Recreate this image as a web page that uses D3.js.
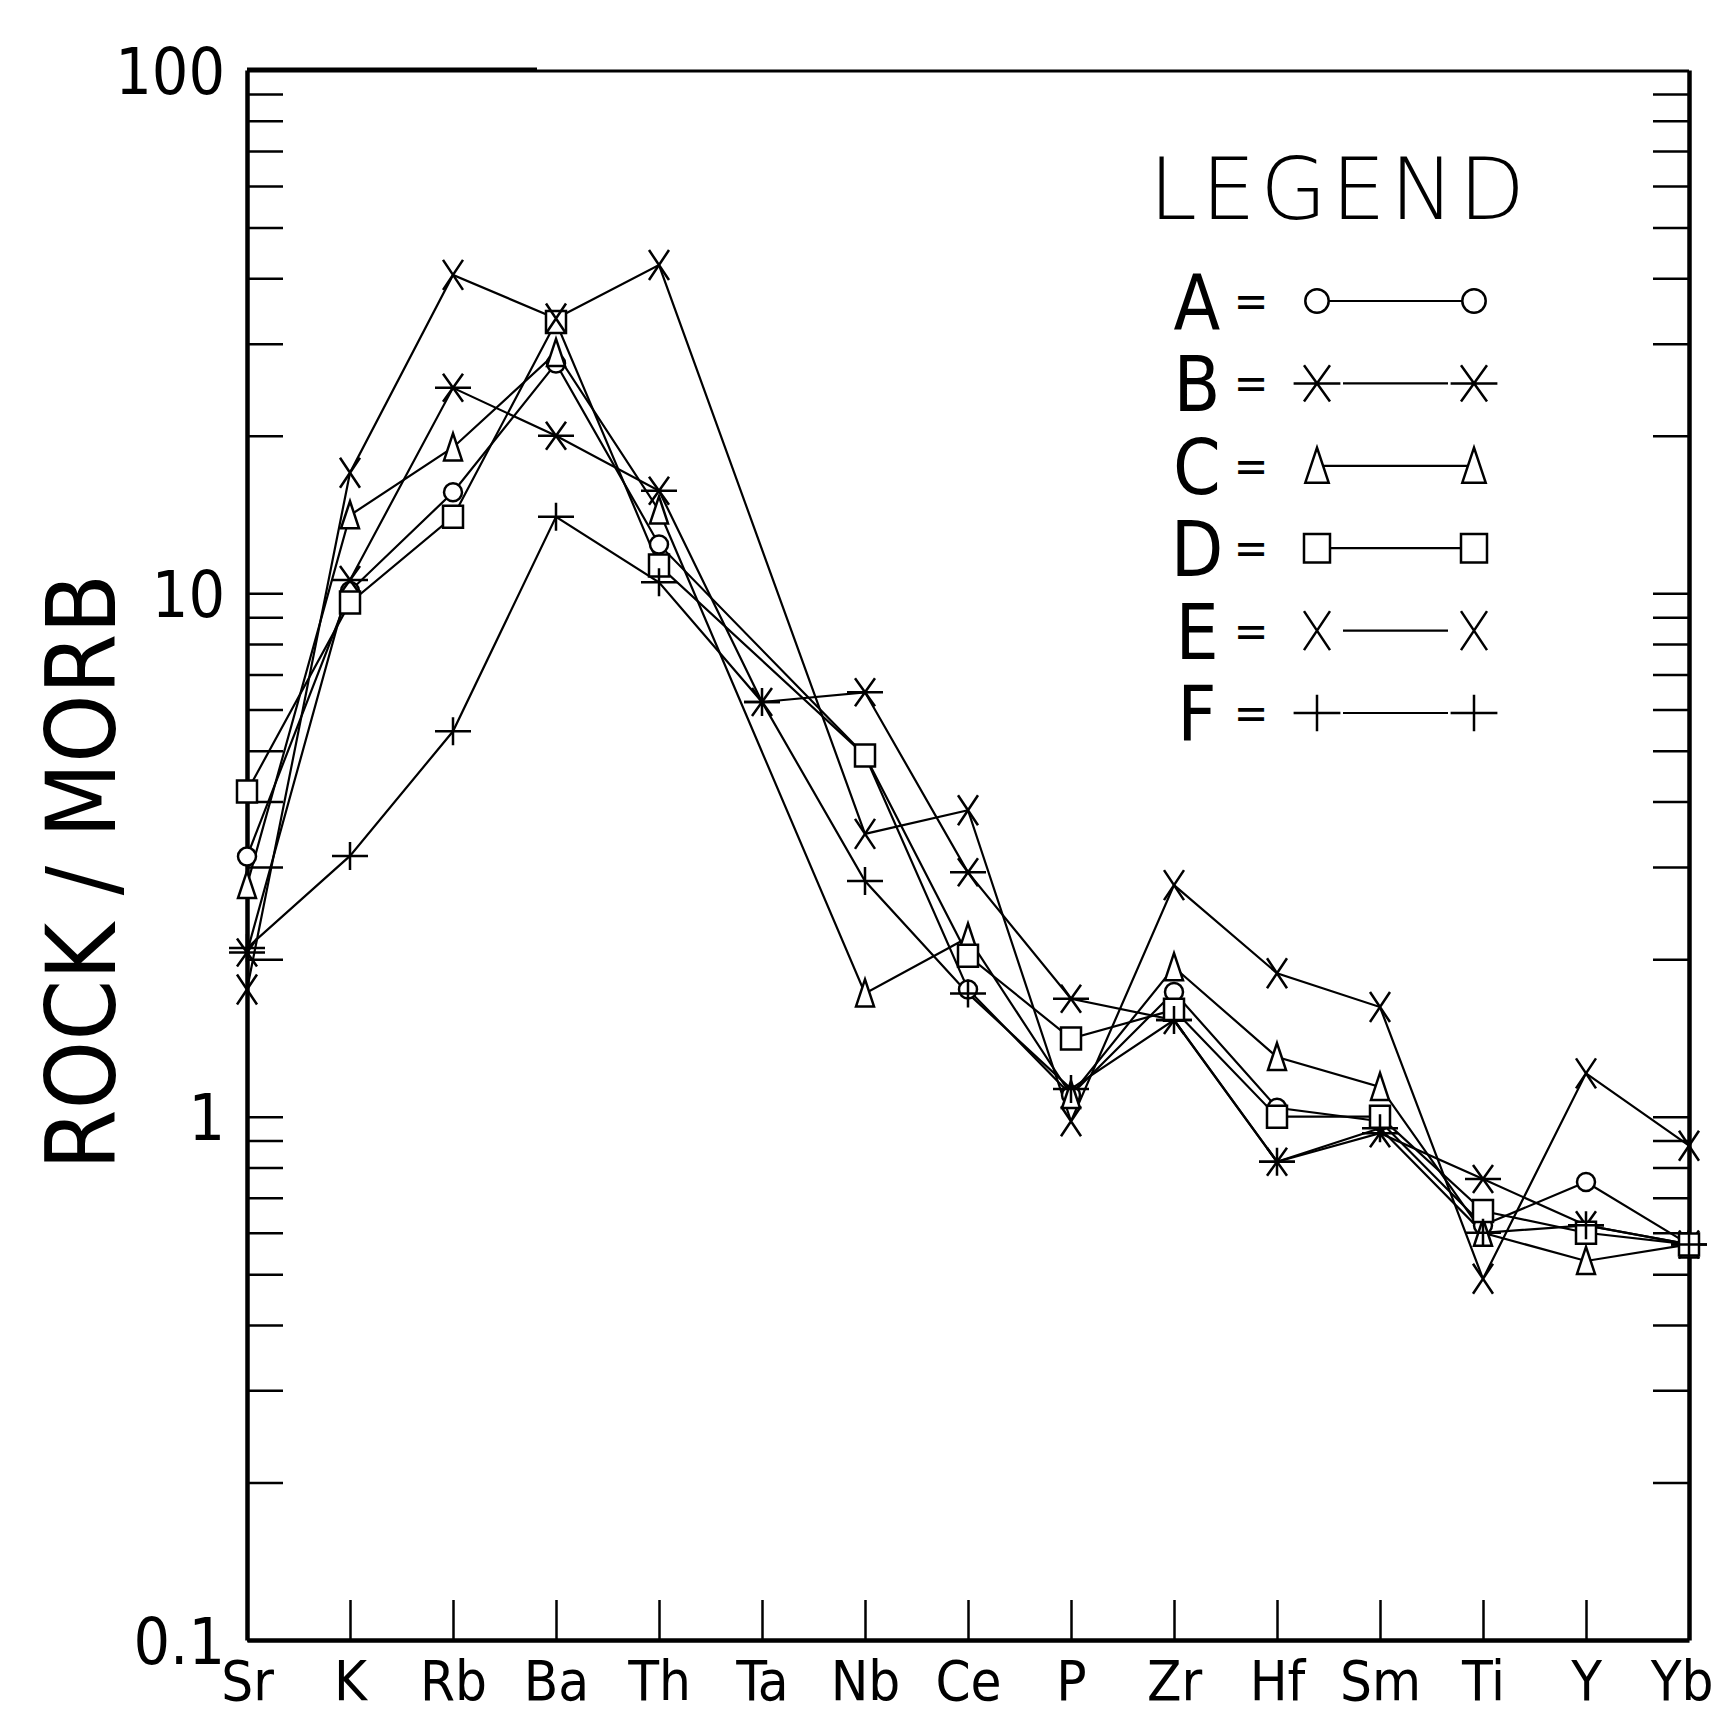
<!DOCTYPE html>
<html>
<head>
<meta charset="utf-8">
<script src="https://cdn.jsdelivr.net/npm/d3@7"></script>
<style>
  body { margin: 0; background: #fff; }
  text { fill: #000; }
</style>
</head>
<body>
<svg id="chart" width="1714" height="1715"></svg>
<script>
// element order along the x axis
const elements = ["Sr", "K", "Rb", "Ba", "Th", "Ta", "Nb", "Ce", "P", "Zr", "Hf", "Sm", "Ti", "Y", "Yb"];

// rock / MORB ratios (null = not plotted)
const seriesA = [3.14, 10.1, 15.6, 27.5, 12.4, null, 4.9, 1.75, 1.1, 1.73, 1.04, 0.98, 0.62, 0.75, 0.57];
const seriesB = [2.06, 10.6, 24.7, 20.0, 15.7, 6.2, 6.47, 2.93, 1.68, 1.53, 0.82, 0.93, 0.76, 0.62, 0.57];
const seriesC = [2.77, 14.1, 19.0, 28.8, 14.4, null, 1.72, 2.2, 1.1, 1.93, 1.30, 1.14, 0.60, 0.53, 0.57];
const seriesD = [4.18, 9.6, 14.0, 33.0, 11.3, null, 4.9, 2.03, 1.41, 1.60, 1.0, 1.0, 0.66, 0.60, 0.57];
const seriesE = [1.75, 17.0, 40.6, 33.5, 42.4, null, 3.47, 3.85, 0.98, 2.77, 1.88, 1.62, 0.49, 1.21, 0.88];
const seriesF = [2.1, 3.15, 5.45, 14.0, 10.5, 6.2, 2.82, 1.72, 1.13, 1.53, 0.82, 0.95, 0.6, 0.62, 0.57];

const seriesNames = ["A", "B", "C", "D", "E", "F"];
const seriesValues = [seriesA, seriesB, seriesC, seriesD, seriesE, seriesF];
const seriesMarkers = ["circle", "asterisk", "triangle", "square", "cross", "plus"];

const yTickValues = [0.1, 1, 10, 100];
const yTickLabels = ["0.1", "1", "10", "100"];

// plot frame
const margin = { top: 70, right: 25, bottom: 75, left: 247 };
const width = 1714 - margin.left - margin.right;
const height = 1715 - margin.top - margin.bottom;

const svg = d3.select("#chart");
const chart = svg.append("g")
  .attr("transform", `translate(${margin.left}, ${margin.top})`);

const x = d3.scalePoint()
  .domain(elements)
  .range([0, width]);

const y = d3.scaleLog()
  .domain([0.1, 100])
  .range([height, 0]);

// minor + major log ticks
const logTicks = [];
[0.1, 1, 10].forEach(base => {
  for (let m = 1; m < 10; m++) logTicks.push(base * m);
});
logTicks.push(100);

const labelFont = "'DejaVu Sans Condensed', 'Liberation Sans Narrow', 'Liberation Sans', sans-serif";

// left axis
const leftAxis = d3.axisLeft(y)
  .tickValues(logTicks)
  .tickSizeInner(-36)
  .tickSizeOuter(0)
  .tickPadding(22)
  .tickFormat(d => {
    const i = yTickValues.findIndex(v => Math.abs(v - d) < 1e-9);
    return i >= 0 ? yTickLabels[i] : "";
  });
const gLeft = chart.append("g").call(leftAxis);

// right axis
const rightAxis = d3.axisRight(y)
  .tickValues(logTicks.filter(d => d < 100 && d > 0.1))
  .tickSizeInner(-36)
  .tickSizeOuter(0)
  .tickFormat("");
const gRight = chart.append("g")
  .attr("transform", `translate(${width}, 0)`)
  .call(rightAxis);

// bottom axis
const bottomAxis = d3.axisBottom(x)
  .tickSizeInner(-40)
  .tickSizeOuter(0)
  .tickPadding(20);
const gBottom = chart.append("g")
  .attr("transform", `translate(0, ${height})`)
  .call(bottomAxis);

// top frame line: heavy on the left part, lighter after
chart.append("line")
  .attr("x1", 0).attr("x2", 290)
  .attr("y1", 0).attr("y2", 0)
  .attr("stroke", "#000")
  .attr("stroke-width", 5);
chart.append("line")
  .attr("x1", 290).attr("x2", width)
  .attr("y1", 1).attr("y2", 1)
  .attr("stroke", "#000")
  .attr("stroke-width", 3);

[gLeft, gRight, gBottom].forEach(g => {
  g.select(".domain").attr("stroke", "#000").attr("stroke-width", 4.5);
  g.selectAll(".tick line").attr("stroke", "#000").attr("stroke-width", 2.5);
});

gLeft.selectAll(".tick text")
  .attr("font-family", labelFont)
  .attr("font-size", 64)
  .attr("dy", "0.36em");

gBottom.selectAll(".tick text")
  .attr("font-family", labelFont)
  .attr("font-size", 56)
  .attr("dy", "0.72em");

// keep the last label inside the page
gBottom.selectAll(".tick text")
  .filter(d => d === elements[elements.length - 1])
  .attr("text-anchor", "end")
  .attr("x", 24);

// y axis title
svg.append("text")
  .attr("transform", `translate(115, 872) rotate(-90)`)
  .attr("text-anchor", "middle")
  .attr("font-family", "'DejaVu Sans', sans-serif")
  .attr("font-size", 96)
  .attr("textLength", 596)
  .attr("lengthAdjust", "spacingAndGlyphs")
  .text("ROCK / MORB");

// marker shapes
function markerPath(type, s) {
  const p = d3.path();
  if (type === "circle") {
    p.moveTo(9 * s, 0);
    p.arc(0, 0, 9 * s, 0, 2 * Math.PI);
  } else if (type === "square") {
    p.rect(-10 * s, -11 * s, 20 * s, 22 * s);
  } else if (type === "triangle") {
    p.moveTo(0, -14 * s);
    p.lineTo(9 * s, 13 * s);
    p.lineTo(-9 * s, 13 * s);
    p.closePath();
  } else if (type === "cross") {
    p.moveTo(-10 * s, -15 * s); p.lineTo(10 * s, 15 * s);
    p.moveTo(10 * s, -15 * s); p.lineTo(-10 * s, 15 * s);
  } else if (type === "asterisk") {
    p.moveTo(-10 * s, -14 * s); p.lineTo(10 * s, 14 * s);
    p.moveTo(10 * s, -14 * s); p.lineTo(-10 * s, 14 * s);
    p.moveTo(-18 * s, 0); p.lineTo(18 * s, 0);
  } else if (type === "plus") {
    p.moveTo(-18 * s, 0); p.lineTo(18 * s, 0);
    p.moveTo(0, -14 * s); p.lineTo(0, 14 * s);
  }
  return p.toString();
}

const line = d3.line()
  .x(d => x(d.el))
  .y(d => y(d.v));

const seriesData = seriesNames.map((name, i) => ({
  name: name,
  marker: seriesMarkers[i],
  points: elements.map((el, j) => ({ el: el, v: seriesValues[i][j] })).filter(d => d.v != null)
}));

// lines
chart.selectAll(".series-line")
  .data(seriesData)
  .enter()
  .append("path")
  .attr("class", "series-line")
  .attr("d", d => line(d.points))
  .attr("fill", "none")
  .attr("stroke", "#000")
  .attr("stroke-width", 2.2);

// markers
seriesData.forEach(s => {
  chart.selectAll(".m-" + s.name)
    .data(s.points)
    .enter()
    .append("path")
    .attr("class", "m-" + s.name)
    .attr("transform", d => `translate(${x(d.el)}, ${y(d.v)})`)
    .attr("d", markerPath(s.marker, 1))
    .attr("fill", ["circle", "square", "triangle"].includes(s.marker) ? "#fff" : "none")
    .attr("stroke", "#000")
    .attr("stroke-width", 2.5);
});

// legend
const legend = svg.append("g");
legend.append("text")
  .attr("x", 1149)
  .attr("y", 219)
  .attr("font-family", "'DejaVu Sans', sans-serif")
  .attr("font-weight", 300)
  .attr("font-size", 86)
  .attr("textLength", 376)
  .attr("lengthAdjust", "spacing")
  .text("LEGEND");

const legendRowY = i => 301 + i * 82.4;

seriesData.forEach((s, i) => {
  const ly = legendRowY(i);
  legend.append("text")
    .attr("x", 1197)
    .attr("y", ly + 28)
    .attr("text-anchor", "middle")
    .attr("font-family", labelFont)
    .attr("font-size", 76)
    .text(s.name);
  legend.append("text")
    .attr("x", 1251)
    .attr("y", ly + 16)
    .attr("text-anchor", "middle")
    .attr("font-family", labelFont)
    .attr("font-size", 46)
    .text("=");
  const gap = ["asterisk", "plus", "cross"].includes(s.marker) ? 26 : 0;
  legend.append("line")
    .attr("x1", 1317 + gap).attr("x2", 1474 - gap)
    .attr("y1", ly).attr("y2", ly)
    .attr("stroke", "#000")
    .attr("stroke-width", 2.2);
  [1317, 1474].forEach(mx => {
    legend.append("path")
      .attr("transform", `translate(${mx}, ${ly})`)
      .attr("d", markerPath(s.marker, 1.3))
      .attr("fill", ["circle", "square", "triangle"].includes(s.marker) ? "#fff" : "none")
      .attr("stroke", "#000")
      .attr("stroke-width", 2.5);
  });
});
</script>
</body>
</html>
